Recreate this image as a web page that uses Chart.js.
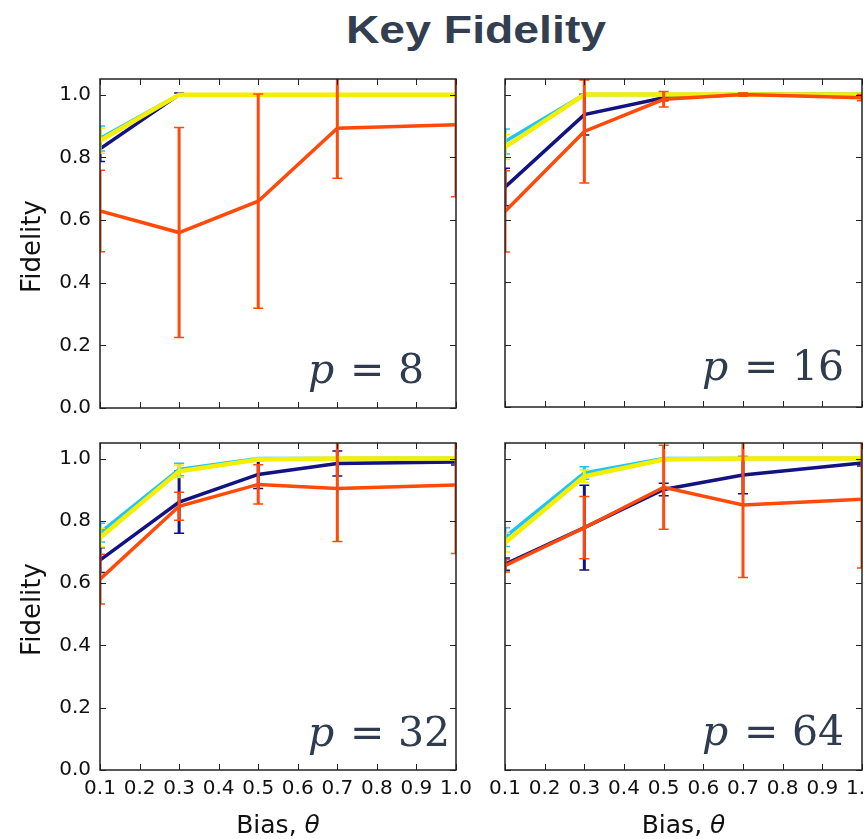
<!DOCTYPE html>
<html>
<head>
<meta charset="utf-8">
<title>Key Fidelity</title>
<script src="https://cdn.jsdelivr.net/npm/chart.js@4.4.1/dist/chart.umd.min.js"></script>
<style>
  html, body { margin: 0; padding: 0; background: #fff; }
  body { width: 864px; height: 839px; position: relative; overflow: hidden; }
  #title {
    position: absolute; left: 476px; top: 11px; margin: 0;
    font: bold 38px "Liberation Sans", Arial, sans-serif; line-height: 38px;
    color: #333f50; white-space: nowrap;
    transform: translateX(-50%) scaleX(1.22);
  }
  canvas { position: absolute; }
  #c8  { left: 0;     top: 70px; }
  #c16 { left: 480px; top: 70px; }
  #c32 { left: 0;     top: 430px; }
  #c64 { left: 480px; top: 430px; }
</style>
</head>
<body>
<h1 id="title">Key Fidelity</h1>
<canvas id="c8"  width="480" height="350"></canvas>
<canvas id="c16" width="384" height="350"></canvas>
<canvas id="c32" width="480" height="409"></canvas>
<canvas id="c64" width="384" height="409"></canvas>

<script>
  "use strict";

  // x positions of the measured points (bias θ)
  const biasValues = [0.1, 0.3, 0.5, 0.7, 1.0];
  const xTickValues = [0.1, 0.2, 0.3, 0.4, 0.5, 0.6, 0.7, 0.8, 0.9, 1.0];
  const yTickValues = [0.0, 0.2, 0.4, 0.6, 0.8, 1.0];
  const seriesLabels = ["orange", "yellow", "cyan", "navy"];
  const seriesColors = ["#ff4a0a", "#f4ee00", "#1ec4ff", "#121282"];
  const seriesWidths = [3.5, 4.5, 3.5, 3.5];

  // p = 8
  const p8Orange = [0.629, 0.560, 0.660, 0.893, 0.904];
  const p8OrangeErr = [0.13, 0.335, 0.342, 0.16, 0.23];
  const p8Yellow = [0.853, 1.0, 1.0, 1.0, 1.0];
  const p8YellowErr = [0.04, 0, 0, 0, 0];
  const p8Cyan = [0.860, 1.0, 1.0, 1.0, 1.0];
  const p8CyanErr = [0.04, 0, 0, 0, 0];
  const p8Navy = [0.827, 1.0, 1.0, 1.0, 1.0];
  const p8NavyErr = [0.04, 0.005, 0, 0, 0];

  // p = 16
  const p16Orange = [0.626, 0.882, 0.985, 1.0, 0.990];
  const p16OrangeErr = [0.13, 0.165, 0.025, 0.005, 0.01];
  const p16Yellow = [0.832, 1.0, 1.0, 1.0, 1.0];
  const p16YellowErr = [0.04, 0, 0, 0, 0];
  const p16Cyan = [0.850, 1.0, 1.0, 1.0, 1.0];
  const p16CyanErr = [0.04, 0, 0, 0, 0];
  const p16Navy = [0.704, 0.936, 0.990, 1.0, 1.0];
  const p16NavyErr = [0.06, 0.065, 0.01, 0.005, 0];

  // p = 32
  const p32Orange = [0.613, 0.847, 0.917, 0.904, 0.915];
  const p32OrangeErr = [0.08, 0.045, 0.063, 0.17, 0.22];
  const p32Yellow = [0.746, 0.959, 0.997, 1.0, 1.0];
  const p32YellowErr = [0.03, 0.02, 0.005, 0, 0];
  const p32Cyan = [0.762, 0.965, 1.0, 1.0, 1.0];
  const p32CyanErr = [0.03, 0.02, 0, 0, 0];
  const p32Navy = [0.674, 0.860, 0.949, 0.984, 0.989];
  const p32NavyErr = [0.04, 0.10, 0.045, 0.04, 0.01];

  // p = 64
  const p64Orange = [0.656, 0.778, 0.908, 0.851, 0.869];
  const p64OrangeErr = [0.02, 0.10, 0.135, 0.233, 0.22];
  const p64Yellow = [0.730, 0.943, 0.997, 1.0, 1.0];
  const p64YellowErr = [0.03, 0.02, 0, 0, 0];
  const p64Cyan = [0.748, 0.954, 1.0, 1.0, 1.0];
  const p64CyanErr = [0.03, 0.02, 0, 0, 0];
  const p64Navy = [0.661, 0.778, 0.901, 0.947, 0.986];
  const p64NavyErr = [0.02, 0.136, 0.02, 0.06, 0.01];

  const TEXT = "#111";
  const NOTE_COLOR = "#2f3c50";

  // error bars drawn just before their own line, so layering follows the datasets
  const errorBarPlugin = {
    id: "errorBars",
    beforeDatasetDraw(chart, args) {
      const ds = chart.data.datasets[args.index];
      if (!ds.errors) return;
      const ys = chart.scales.y;
      const area = chart.chartArea;
      const ctx = chart.ctx;
      ctx.save();
      ctx.beginPath();
      ctx.rect(area.left, area.top, area.right - area.left, area.bottom - area.top);
      ctx.clip();
      ctx.strokeStyle = ds.borderColor;
      args.meta.data.forEach((pt, i) => {
        const e = ds.errors[i];
        if (!e) return;
        const v = ds.data[i].y;
        const yLo = ys.getPixelForValue(v - e);
        const yHi = ys.getPixelForValue(v + e);
        ctx.lineWidth = 3;
        ctx.beginPath();
        ctx.moveTo(pt.x, yLo);
        ctx.lineTo(pt.x, yHi);
        ctx.stroke();
        ctx.lineWidth = 1.5;
        ctx.beginPath();
        ctx.moveTo(pt.x - 5, yLo); ctx.lineTo(pt.x + 5, yLo);
        ctx.moveTo(pt.x - 5, yHi); ctx.lineTo(pt.x + 5, yHi);
        ctx.stroke();
      });
      ctx.restore();
    }
  };

  // matplotlib-like frame: box, inward ticks, p label, axis titles
  const framePlugin = {
    id: "frame",
    afterDraw(chart, args, opts) {
      const ctx = chart.ctx;
      const a = chart.chartArea;
      const xs = chart.scales.x, ys = chart.scales.y;
      ctx.save();
      ctx.strokeStyle = "#222";
      ctx.lineWidth = 1;
      ctx.beginPath();
      xTickValues.forEach((v) => {
        const x = Math.round(xs.getPixelForValue(v)) + 0.5;
        ctx.moveTo(x, a.bottom); ctx.lineTo(x, a.bottom - 6);
        ctx.moveTo(x, a.top); ctx.lineTo(x, a.top + 6);
      });
      yTickValues.forEach((v) => {
        const y = Math.round(ys.getPixelForValue(v)) + 0.5;
        ctx.moveTo(a.left, y); ctx.lineTo(a.left + 6, y);
        ctx.moveTo(a.right, y); ctx.lineTo(a.right - 6, y);
      });
      ctx.stroke();
      ctx.lineWidth = 1.5;
      ctx.strokeRect(a.left, a.top, a.right - a.left, a.bottom - a.top);

      // "p = N" note
      const nx = a.left + opts.noteDx;
      const ny = a.bottom - opts.noteDy;
      ctx.fillStyle = NOTE_COLOR;
      ctx.textBaseline = "alphabetic";
      ctx.textAlign = "left";
      ctx.font = 'italic 41px "DejaVu Serif"';
      ctx.fillText("p", nx, ny);
      ctx.font = '41px "DejaVu Serif"';
      ctx.fillText("=", nx + 42, ny);
      ctx.fillText(opts.note, nx + 90, ny);

      ctx.fillStyle = TEXT;
      if (opts.yTitle) {
        ctx.save();
        ctx.translate(33, (a.top + a.bottom) / 2 + 3);
        ctx.rotate(-Math.PI / 2);
        ctx.font = '26px "DejaVu Sans"';
        ctx.textAlign = "center";
        ctx.textBaseline = "middle";
        ctx.fillText("Fidelity", 0, 0);
        ctx.restore();
      }
      if (opts.xTitle) {
        const plain = "Bias, ";
        ctx.font = '25px "DejaVu Sans"';
        const w1 = ctx.measureText(plain).width;
        ctx.font = 'italic 25px "DejaVu Sans"';
        const w2 = ctx.measureText("θ").width;
        const x0 = (a.left + a.right) / 2 - (w1 + w2) / 2;
        ctx.textAlign = "left";
        ctx.textBaseline = "alphabetic";
        ctx.font = '25px "DejaVu Sans"';
        ctx.fillText(plain, x0, opts.xTitleY);
        ctx.font = 'italic 25px "DejaVu Sans"';
        ctx.fillText("θ", x0 + w1, opts.xTitleY);
      }
      ctx.restore();
    }
  };

  const panels = [
    { canvas: "c8", note: "8", series: [[p8Orange, p8OrangeErr], [p8Yellow, p8YellowErr], [p8Cyan, p8CyanErr], [p8Navy, p8NavyErr]],
      yAxisW: 100, padTop: 9, padRight: 24, xAxisH: 12, showX: false, showY: true, noteDx: 208, noteDy: 25 },
    { canvas: "c16", note: "16", series: [[p16Orange, p16OrangeErr], [p16Yellow, p16YellowErr], [p16Cyan, p16CyanErr], [p16Navy, p16NavyErr]],
      yAxisW: 25, padTop: 9, padRight: 2, xAxisH: 13, showX: false, showY: false, noteDx: 197, noteDy: 27 },
    { canvas: "c32", note: "32", series: [[p32Orange, p32OrangeErr], [p32Yellow, p32YellowErr], [p32Cyan, p32CyanErr], [p32Navy, p32NavyErr]],
      yAxisW: 100, padTop: 13, padRight: 24, xAxisH: 69, showX: true, showY: true, noteDx: 208, noteDy: 24 },
    { canvas: "c64", note: "64", series: [[p64Orange, p64OrangeErr], [p64Yellow, p64YellowErr], [p64Cyan, p64CyanErr], [p64Navy, p64NavyErr]],
      yAxisW: 25, padTop: 13, padRight: 2, xAxisH: 69, showX: true, showY: false, noteDx: 197, noteDy: 25 }
  ];

  // labels may spill past the plot box, like in matplotlib
  function noScalePadding(s) {
    s.paddingTop = 0;
    s.paddingBottom = 0;
    s.paddingLeft = 0;
    s.paddingRight = 0;
  }

  panels.forEach((p) => {
    const datasets = p.series.map(([mean, err], k) => ({
      label: seriesLabels[k],
      data: biasValues.map((x, i) => ({ x, y: mean[i] })),
      errors: err,
      borderColor: seriesColors[k],
      borderWidth: seriesWidths[k],
      pointRadius: 0,
      tension: 0,
      fill: false
    }));

    new Chart(document.getElementById(p.canvas), {
      type: "line",
      data: { datasets },
      plugins: [errorBarPlugin, framePlugin],
      options: {
        responsive: false,
        animation: false,
        events: [],
        layout: { autoPadding: false, padding: { top: p.padTop, right: p.padRight, left: 0, bottom: 0 } },
        plugins: {
          legend: { display: false },
          tooltip: { enabled: false },
          frame: { note: p.note, noteDx: p.noteDx, noteDy: p.noteDy, yTitle: p.showY, xTitle: p.showX, xTitleY: 403 }
        },
        scales: {
          x: {
            type: "linear", min: 0.1, max: 1.0,
            grid: { display: false, drawTicks: false },
            border: { display: false },
            afterBuildTicks: (s) => { s.ticks = xTickValues.map((v) => ({ value: v })); },
            afterFit: (s) => { s.height = p.xAxisH; noScalePadding(s); },
            ticks: {
              display: p.showX, padding: 7, autoSkip: false, maxRotation: 0, minRotation: 0,
              color: TEXT, font: { family: "DejaVu Sans", size: 20 },
              callback: (v) => Number(v).toFixed(1)
            }
          },
          y: {
            type: "linear", min: 0, max: 1.05,
            grid: { display: false, drawTicks: false },
            border: { display: false },
            afterBuildTicks: (s) => { s.ticks = yTickValues.map((v) => ({ value: v })); },
            afterFit: (s) => { s.width = p.yAxisW; noScalePadding(s); },
            ticks: {
              display: p.showY, padding: 9,
              color: TEXT, font: { family: "DejaVu Sans", size: 20 },
              callback: (v) => Number(v).toFixed(1)
            }
          }
        }
      }
    });
  });
</script>
</body>
</html>
